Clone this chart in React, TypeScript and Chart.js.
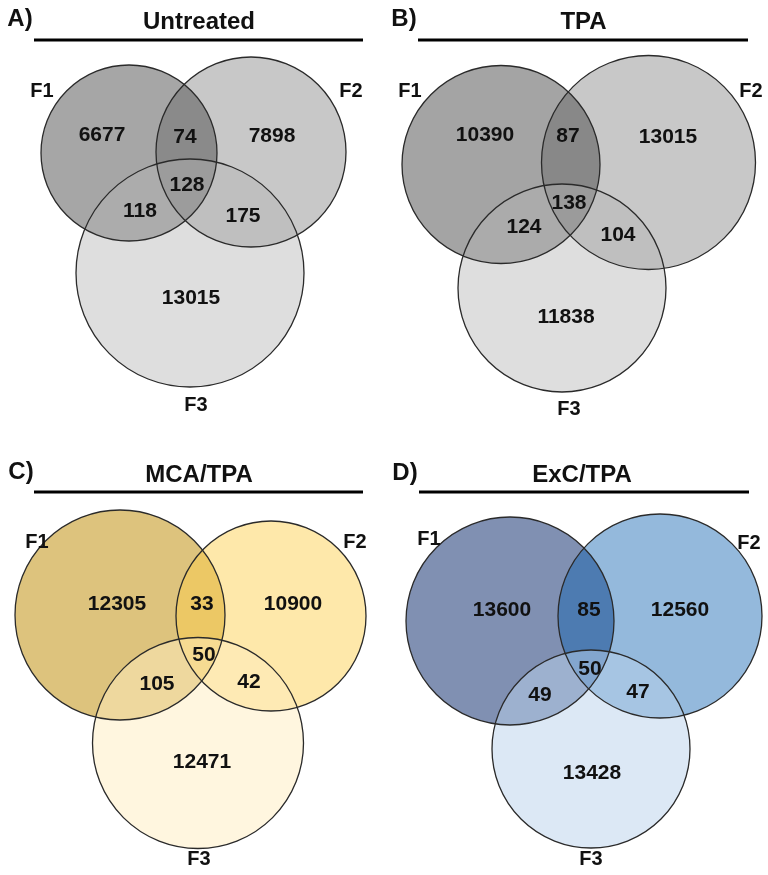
import React, { useEffect, useRef } from "react";
import { Chart, registerables } from "chart.js";

Chart.register(...registerables);

// ---------------- data ----------------
const panelLetters = ["A)", "B)", "C)", "D)"];
const panelTitles = ["Untreated", "TPA", "MCA/TPA", "ExC/TPA"];
const setNames = ["F1", "F2", "F3"];
// region order: F1 only, F2 only, F3 only, F1∩F2, F1∩F3, F2∩F3, F1∩F2∩F3
const countsUntreated = [6677, 7898, 13015, 74, 118, 175, 128];
const countsTPA = [10390, 13015, 11838, 87, 124, 104, 138];
const countsMCA = [12305, 10900, 12471, 33, 105, 42, 50];
const countsExC = [13600, 12560, 13428, 85, 49, 47, 50];
const panelCounts = [countsUntreated, countsTPA, countsMCA, countsExC];

// ---------------- layout / style (page coordinates) ----------------
const circleLayout = [
  [[129, 153, 88], [251, 152, 95], [190, 273, 114]],
  [[501, 164.5, 99], [648.5, 162.5, 107], [562, 288, 104]],
  [[120, 615, 105], [271, 616, 95], [198, 743, 105.5]],
  [[510, 621, 104], [660, 616, 102], [591, 749, 99]],
];
const regionLabelPos = [
  [[102, 135], [272, 136], [191, 298], [185, 137], [140, 211], [243, 216], [187, 185]],
  [[485, 135], [668, 137], [566, 317], [568, 136], [524, 227], [618, 235], [569, 203]],
  [[117, 604], [293, 604], [202, 762], [202, 604], [157, 684], [249, 682], [204, 655]],
  [[502, 610], [680, 610], [592, 773], [589, 610], [540, 695], [638, 692], [590, 669]],
];
const setLabelPos = [
  [[42, 91], [351, 91], [196, 405]],
  [[410, 91], [751, 91], [569, 409]],
  [[37, 542], [355, 542], [199, 859]],
  [[429, 539], [749, 543], [591, 859]],
];
const titlePos = [[199, 22], [583.5, 22], [199, 475], [582, 475]];
const letterPos = [[20, 19], [404, 19], [21, 472], [405, 473]];
const underline = [[34, 363, 40], [418, 748, 40], [34, 363, 492], [419, 749, 492]];

const circleColors = [
  ["#a6a6a6", "rgba(72,72,72,0.30)", "rgba(180,180,180,0.44)"],
  ["#a4a4a4", "rgba(72,72,72,0.30)", "rgba(180,180,180,0.44)"],
  ["rgb(221,195,125)", "rgba(253,206,74,0.47)", "rgba(255,237,191,0.5)"],
  ["rgb(128,144,178)", "rgba(12,96,175,0.44)", "rgba(185,209,235,0.5)"],
];

const W = 768;
const H = 875;
const FONT = "'Liberation Sans', Arial, Helvetica, sans-serif";

const textPlugin = {
  id: "vennText",
  afterDatasetsDraw(chart: any) {
    const { ctx, scales } = chart;
    const px = (v: number) => scales.x.getPixelForValue(v);
    const py = (v: number) => scales.y.getPixelForValue(v);
    ctx.save();
    ctx.fillStyle = "#111";
    ctx.textAlign = "center";
    ctx.textBaseline = "middle";
    for (let p = 0; p < 4; p++) {
      ctx.font = `bold 24px ${FONT}`;
      ctx.fillText(panelTitles[p], px(titlePos[p][0]), py(titlePos[p][1]));
      ctx.fillText(panelLetters[p], px(letterPos[p][0]), py(letterPos[p][1]));
      ctx.font = `bold 20px ${FONT}`;
      for (let s = 0; s < 3; s++) {
        ctx.fillText(setNames[s], px(setLabelPos[p][s][0]), py(setLabelPos[p][s][1]));
      }
      ctx.font = `bold 21px ${FONT}`;
      for (let r = 0; r < 7; r++) {
        ctx.fillText(
          String(panelCounts[p][r]),
          px(regionLabelPos[p][r][0]),
          py(regionLabelPos[p][r][1])
        );
      }
    }
    ctx.restore();
  },
};

export default function App() {
  const ref = useRef<HTMLCanvasElement | null>(null);

  useEffect(() => {
    if (!ref.current) return;
    const datasets: any[] = [];
    // fills: F1 bottom, then F2, then F3
    for (let s = 0; s < 3; s++) {
      datasets.push({
        type: "bubble",
        label: setNames[s] + " fill",
        data: circleLayout.map((panel) => ({ x: panel[s][0], y: panel[s][1], rad: panel[s][2], r: 1 })),
        backgroundColor: circleColors.map((c) => c[s]),
        borderWidth: 0,
        order: 10 - s,
        clip: false,
      });
    }
    // outlines on top
    datasets.push({
      type: "bubble",
      label: "outlines",
      data: circleLayout.flatMap((panel) => panel.map((c) => ({ x: c[0], y: c[1], rad: c[2], r: 1 }))),
      backgroundColor: "rgba(0,0,0,0)",
      borderColor: "#2a2a2a",
      borderWidth: 1.3,
      order: 2,
      clip: false,
    });
    underline.forEach((u, i) => {
      datasets.push({
        type: "line",
        label: "underline " + i,
        data: [{ x: u[0], y: u[2] }, { x: u[1], y: u[2] }],
        borderColor: "#000",
        borderWidth: 3,
        pointRadius: 0,
        fill: false,
        order: 1,
        clip: false,
      });
    });

    const chart = new Chart(ref.current, {
      type: "bubble",
      data: { datasets },
      options: {
        animation: false,
        responsive: false,
        maintainAspectRatio: false,
        events: [],
        layout: { padding: 0, autoPadding: false },
        plugins: { legend: { display: false }, tooltip: { enabled: false }, title: { display: false } },
        scales: {
          x: { type: "linear", min: 0, max: W, display: false },
          y: { type: "linear", min: 0, max: H, reverse: true, display: false },
        },
      } as any,
      plugins: [textPlugin],
    });
    // convert radii from data units to pixels through the x scale
    const xs: any = chart.scales.x;
    chart.data.datasets.forEach((ds: any) => {
      if (ds.type !== "bubble") return;
      ds.data.forEach((pt: any) => {
        pt.r = Math.abs(xs.getPixelForValue(pt.x + pt.rad) - xs.getPixelForValue(pt.x));
      });
    });
    chart.update();
    return () => chart.destroy();
  }, []);

  return (
    <div style={{ position: "absolute", left: 0, top: 0, width: W, height: H, background: "#fff" }}>
      <canvas ref={ref} width={W} height={H} style={{ width: W, height: H, display: "block" }} />
    </div>
  );
}
